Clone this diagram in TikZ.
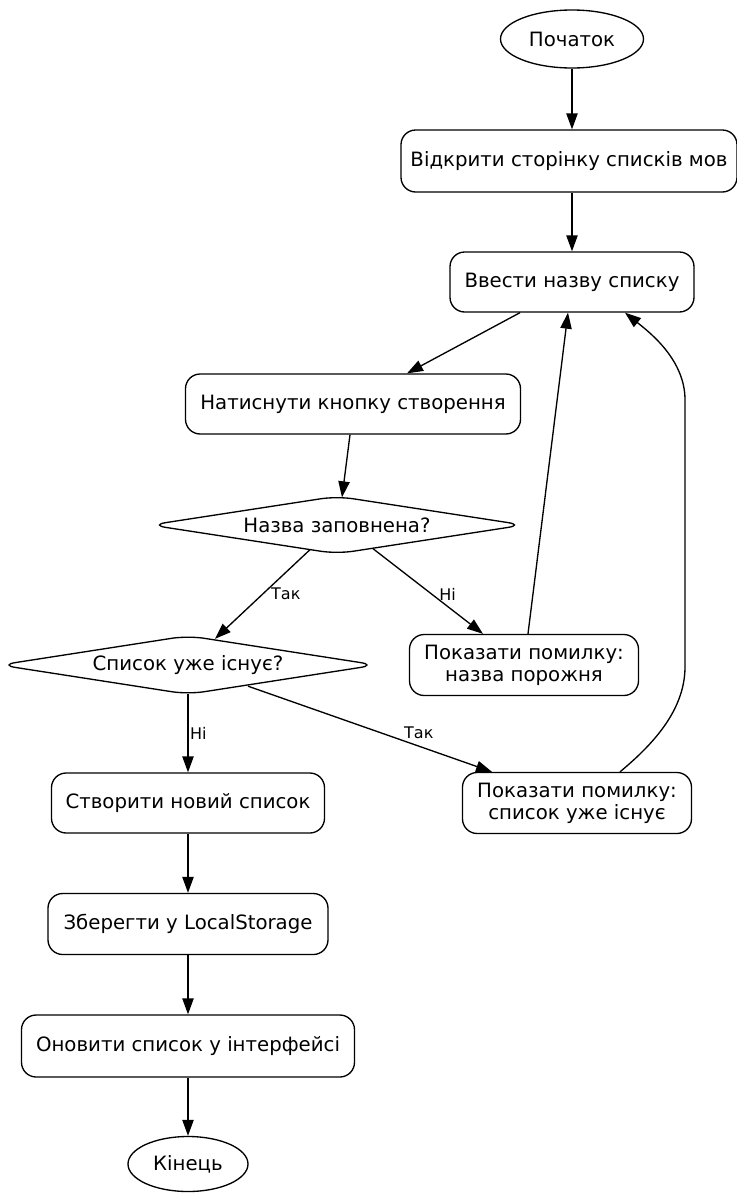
\documentclass[tikz,border=0pt]{standalone}
\usepackage{fontspec}
\setmainfont{DejaVu Sans}
\usetikzlibrary{arrows.meta, calc, shapes.geometric}
\newdimen\pxu
\pxu=0.75pt

\begin{document}
\begin{tikzpicture}[
    x=0.75pt, y=-0.75pt,
    base/.style={draw, line width=1pt, font=\fontsize{14.8}{16.3}\selectfont,
                 align=center, inner sep=0pt},
    proc/.style={base, rounded corners=11pt},
    term/.style={base, ellipse},
    cond/.style={base, diamond, aspect=6.3, rounded corners=12pt},
    flow/.style={-{Triangle[length=12pt, width=8.5pt]}, line width=1pt},
    elbl/.style={font=\fontsize{12}{14}\selectfont, inner sep=1pt},
]
\def\xl{188}   % x of the left column
\def\xr{572}   % x of the top column
\useasboundingbox (0,0) rectangle (737,1193);

% --- top column ---
\node[term, minimum width=143\pxu, minimum height=58\pxu] (start) at (\xr,39) {Початок};
\node[proc, minimum width=336\pxu, minimum height=62\pxu] (open) at (569,161)
      {Відкрити сторінку списків мов};
\node[proc, minimum width=244\pxu, minimum height=60\pxu] (enter) at (\xr,282)
      {Ввести назву списку};
\node[proc, minimum width=335\pxu, minimum height=60\pxu] (press) at (353,404)
      {Натиснути кнопку створення};

% --- checks and errors ---
\node[cond, minimum width=374\pxu, minimum height=58\pxu] (filled) at (337,525)
      {Назва заповнена?};
\node[proc, minimum width=229\pxu, minimum height=61\pxu] (errempty) at (524,665)
      {Показати помилку:\\назва порожня};
\node[cond, minimum width=377\pxu, minimum height=59\pxu] (exists) at (\xl,665)
      {Список уже існує?};
\node[proc, minimum width=229\pxu, minimum height=61\pxu] (errexists) at (577,803)
      {Показати помилку:\\список уже існує};

% --- left column ---
\node[proc, minimum width=273\pxu, minimum height=60\pxu] (create) at (\xl,803)
      {Створити новий список};
\node[proc, minimum width=280\pxu, minimum height=61\pxu] (save) at (\xl,924)
      {Зберегти у LocalStorage};
\node[proc, minimum width=333\pxu, minimum height=62\pxu] (update) at (\xl,1046)
      {Оновити список у інтерфейсі};
\node[term, minimum width=120\pxu, minimum height=55\pxu] (end) at (\xl,1164) {Кінець};

% connectors
\draw[flow] (start.south) -- (start.south |- open.north);
\draw[flow] (start.south |- open.south) -- (enter.north);
\draw[flow] ($(enter.south)+(-52,0)$) -- ($(press.north)+(54,0)$);
\draw[flow] ($(press.south)+(-3,0)$) -- ($(filled.north)+(5,2)$);
\draw[flow] ($(filled.south)+(-27,-5)$) -- ($(exists.north)+(27,4)$)
      node[elbl, midway, anchor=west, xshift=5pt]{Так};
\draw[flow] ($(filled.south)+(36,-6)$) -- ($(errempty.north)+(-41,0)$)
      node[elbl, midway, anchor=west, xshift=7pt, yshift=-2pt]{Ні};
\draw[flow] ($(errempty.north)+(4,0)$) -- ($(enter.south)+(-4,0)$);
\draw[flow] ($(exists.south)+(0,-1)$) -- (create.north)
      node[elbl, midway, anchor=west]{Ні};
\draw[flow] ($(exists.south)+(60,-9)$) -- ($(errexists.north)+(-85,0)$)
      node[elbl, pos=0.7, anchor=south, yshift=4pt]{Так};
\draw[flow] ($(errexists.north)+(43,0)$) .. controls +(30,-25) and +(0,45) .. ++(65,-105)
      -- ++(0,-267) .. controls +(0,-40) and +(25,20) .. ($(enter.south)+(53,0)$);
\draw[flow] (create) -- (save);
\draw[flow] (save) -- (update);
\draw[flow] (update) -- (end);
\end{tikzpicture}
\end{document}
